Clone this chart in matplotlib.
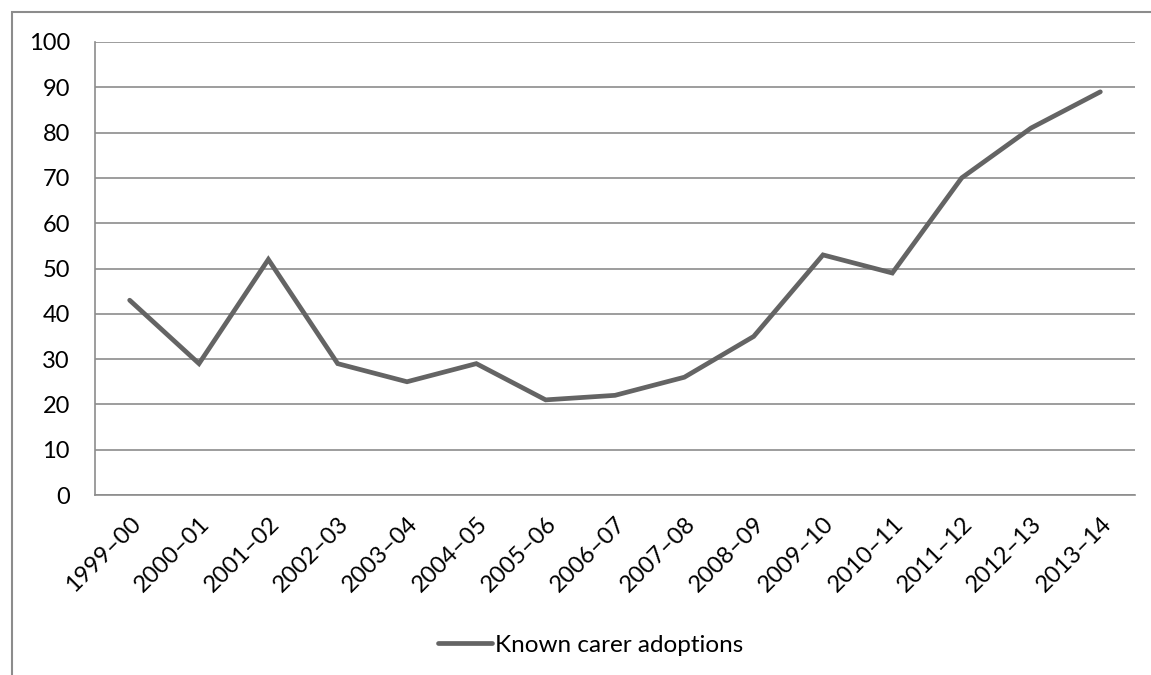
import matplotlib
matplotlib.use("Agg")
import matplotlib.pyplot as plt
from matplotlib.patches import Rectangle

categories = ["1999–00", "2000–01", "2001–02", "2002–03", "2003–04", "2004–05",
              "2005–06", "2006–07", "2007–08", "2008–09", "2009–10", "2010–11",
              "2011–12", "2012–13", "2013–14"]
values = [43, 29, 52, 29, 25, 29, 21, 22, 26, 35, 53, 49, 70, 81, 89]
series_name = "Known carer adoptions"

plt.rcParams['font.family'] = ['Lato', 'DejaVu Sans']

W, H = 1151, 675
fig = plt.figure(figsize=(W/100, H/100), dpi=100)
ax = fig.add_axes([95/W, 1-495/H, (1135-95)/W, (495-42)/H])

x = list(range(len(categories)))
ax.plot(x, values, color='#646464', lw=3.4, solid_capstyle='round', solid_joinstyle='miter',
        label=series_name, zorder=3)
ax.set_xlim(-0.5, len(categories)-0.5)
ax.set_ylim(0, 100)
ax.set_yticks(range(0, 101, 10))
ax.grid(axis='y', color='#8c8c8c', lw=1.2)
ax.set_axisbelow(True)
for s in ['top', 'right']:
    ax.spines[s].set_visible(False)
for s in ['left', 'bottom']:
    ax.spines[s].set_color('#8c8c8c')
    ax.spines[s].set_linewidth(1.2)
ax.tick_params(axis='both', length=0, labelsize=17, colors='black')
ax.tick_params(axis='y', pad=18)
ax.set_xticks(x)
ax.set_xticklabels(categories, rotation=45, ha='right', va='top', rotation_mode='anchor')
ax.tick_params(axis='x', pad=13)

leg = fig.legend(loc='center', bbox_to_anchor=(591/W, 1-645/H), frameon=False,
                 fontsize=17.5, handlelength=2.2, handletextpad=0.15)

fig.patches.append(Rectangle((12/W, -0.1), 2, 1-12/H+0.1, transform=fig.transFigure,
                             fill=False, edgecolor='#8c8c8c', lw=1.5, clip_on=False))

fig.savefig('out.png', dpi=100)
